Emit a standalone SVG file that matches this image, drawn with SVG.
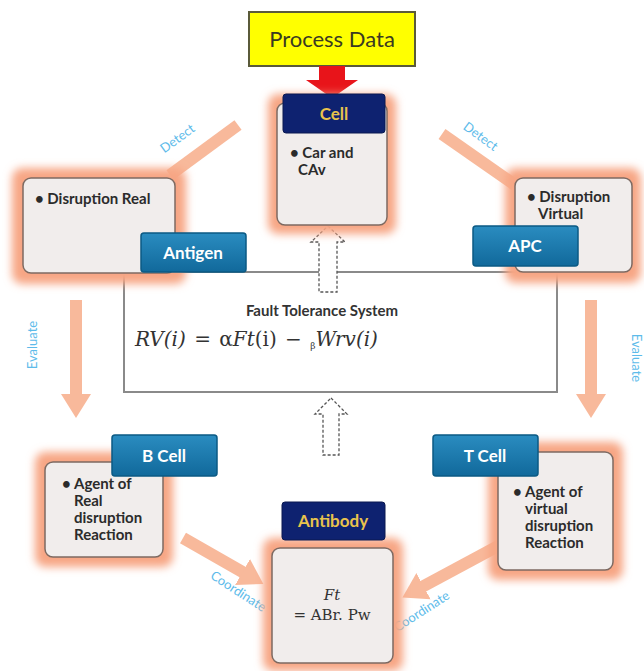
<svg xmlns="http://www.w3.org/2000/svg" width="644" height="671" viewBox="0 0 644 671">
<style>
.glow{fill:#f7a684;filter:url(#blur)}
.box{fill:#f1edec;stroke:#7d6a62;stroke-width:1.5}
.lbl{fill:url(#blueg);stroke:#0b5a84;stroke-width:1.5}
.lbltxt{font-family:Lato,"Liberation Sans",sans-serif;font-weight:bold;font-size:17px;fill:#ffffff;text-anchor:middle}
.hdr{fill:#0e2270;stroke:#0a1850;stroke-width:1}
.hdrtxt{font-family:Lato,"Liberation Sans",sans-serif;font-weight:bold;font-size:17px;fill:#e9c34c;text-anchor:middle}
.body{font-family:Lato,"Liberation Sans",sans-serif;font-weight:bold;font-size:15px;fill:#2b2b2b}
.edge{font-family:Lato,"Liberation Sans",sans-serif;font-size:13px;fill:#5dbbea}
.peach{stroke:#f8b99b;stroke-width:12;fill:none}
.dash{fill:#ffffff;stroke:#555555;stroke-width:1.3;stroke-dasharray:3 2}
.math{font-family:"DejaVu Serif","Liberation Serif",serif;fill:#333333}
</style>
<defs>
<filter id="blur" x="-20%" y="-20%" width="140%" height="140%"><feGaussianBlur stdDeviation="4"/></filter>
<linearGradient id="blueg" x1="0" y1="0" x2="0" y2="1"><stop offset="0" stop-color="#2a8cc0"/><stop offset="1" stop-color="#11699b"/></linearGradient>
<marker id="ph" markerUnits="userSpaceOnUse" markerWidth="34" markerHeight="34" refX="4" refY="17" orient="auto" viewBox="0 0 34 34"><path d="M0,2 L24,17 L0,32 Z" fill="#f8b99b"/></marker>
</defs>

<g id="fault-tolerance">
<rect x="124" y="272" width="433" height="120" fill="#ffffff" stroke="#8a8a8a" stroke-width="2"/>
<text x="322" y="316" text-anchor="middle" font-family="Lato,'Liberation Sans',sans-serif" font-weight="bold" font-size="15" fill="#333">Fault Tolerance System</text>
<text class="math" x="135" y="346" font-size="20" word-spacing="2"><tspan font-style="italic">RV(i)</tspan> = α<tspan font-style="italic">Ft</tspan>(i) − <tspan font-size="9" dy="3">β</tspan><tspan font-style="italic" dy="-3">Wrv(i)</tspan></text>
</g>

<g id="connectors">
<line class="peach" x1="238" y1="125" x2="170" y2="175"/>
<line class="peach" x1="442" y1="134" x2="515" y2="185"/>
<line class="peach" x1="76" y1="300" x2="76" y2="398" marker-end="url(#ph)"/>
<line class="peach" x1="591" y1="300" x2="591" y2="398" marker-end="url(#ph)"/>
<line class="peach" x1="183" y1="538" x2="246" y2="574" marker-end="url(#ph)"/>
<line class="peach" x1="500" y1="545" x2="420" y2="588" marker-end="url(#ph)"/>
<polygon class="dash" points="328,226 345,242 337,242 337,292 319,292 319,242 311,242"/>
<polygon class="dash" points="331,398 347,414 339,414 339,455 323,455 323,414 315,414"/>
<text class="edge" transform="translate(180,142) rotate(-36)" text-anchor="middle">Detect</text>
<text class="edge" transform="translate(478,140) rotate(36)" text-anchor="middle">Detect</text>
<text class="edge" transform="translate(37,345) rotate(-90)" text-anchor="middle">Evaluate</text>
<text class="edge" transform="translate(632,358) rotate(90)" text-anchor="middle">Evaluate</text>
<text class="edge" transform="translate(236,595) rotate(33)" text-anchor="middle">Coordinate</text>
<text class="edge" transform="translate(424,615) rotate(-33)" text-anchor="middle">Coordinate</text>
</g>

<g id="process-data">
<rect x="249" y="12" width="166" height="54" fill="#ffff00" stroke="#5a5a3a" stroke-width="2"/>
<text x="332" y="47" text-anchor="middle" font-family="Lato,'Liberation Sans',sans-serif" font-size="22" fill="#3a3a22">Process Data</text>
<polygon points="319,66 345,66 345,80 358,80 332,98 306,80 319,80" fill="#e8141a"/>
</g>

<g id="cell">
<rect class="glow" x="268" y="94" width="128" height="140" rx="10"/>
<rect class="box" x="277" y="103" width="110" height="122" rx="8"/>
<rect class="hdr" x="283" y="94" width="102" height="39" rx="3"/>
<text class="hdrtxt" x="334" y="120">Cell</text>
<text class="body" x="290" y="158">• Car and</text>
<text class="body" x="298" y="175">CAv</text>
</g>

<g id="antigen">
<rect class="glow" x="12" y="168" width="174" height="116" rx="10"/>
<rect class="box" x="23" y="178" width="152" height="95" rx="8"/>
<text class="body" x="35" y="204">• Disruption Real</text>
<rect class="lbl" x="141" y="233" width="105" height="39" rx="3"/>
<text class="lbltxt" x="193" y="259">Antigen</text>
</g>

<g id="apc">
<rect class="glow" x="505" y="168" width="136" height="115" rx="10"/>
<rect class="box" x="515" y="178" width="117" height="94" rx="8"/>
<text class="body" x="527" y="202">• Disruption</text>
<text class="body" x="538" y="219">Virtual</text>
<rect class="lbl" x="473" y="226" width="105" height="40" rx="3"/>
<text class="lbltxt" x="525" y="252">APC</text>
</g>

<g id="b-cell">
<rect class="glow" x="35" y="452" width="138" height="115" rx="10"/>
<rect class="box" x="45" y="462" width="118" height="95" rx="8"/>
<text class="body" x="62" y="489">•</text>
<text class="body" x="74" y="489">Agent of</text>
<text class="body" x="74" y="506">Real</text>
<text class="body" x="74" y="523">disruption</text>
<text class="body" x="74" y="540">Reaction</text>
<rect class="lbl" x="112" y="435" width="105" height="41" rx="3"/>
<text class="lbltxt" x="164" y="462">B Cell</text>
</g>

<g id="t-cell">
<rect class="glow" x="488" y="442" width="135" height="138" rx="10"/>
<rect class="box" x="498" y="452" width="115" height="118" rx="8"/>
<text class="body" x="513" y="497">•</text>
<text class="body" x="525" y="497">Agent of</text>
<text class="body" x="525" y="514">virtual</text>
<text class="body" x="525" y="531">disruption</text>
<text class="body" x="525" y="548">Reaction</text>
<rect class="lbl" x="433" y="435" width="105" height="41" rx="3"/>
<text class="lbltxt" x="485" y="462">T Cell</text>
</g>

<g id="antibody">
<rect class="glow" x="263" y="538" width="140" height="133" rx="10"/>
<rect class="box" x="272" y="548" width="121" height="115" rx="8"/>
<rect class="hdr" x="282" y="502" width="103" height="38" rx="3"/>
<text class="hdrtxt" x="333" y="527">Antibody</text>
<text class="math" x="332" y="600" font-size="15" text-anchor="middle" font-style="italic">Ft</text>
<text class="math" x="332" y="620" font-size="15" text-anchor="middle">= ABr. Pw</text>
</g>
</svg>
